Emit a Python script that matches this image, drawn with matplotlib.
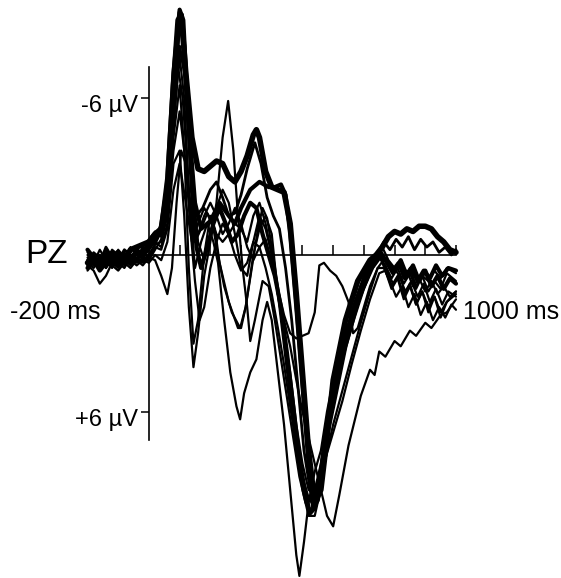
import matplotlib.pyplot as plt
from matplotlib.transforms import ScaledTranslation

plt.rcParams['font.family'] = ['Liberation Sans', 'DejaVu Sans']

# pre-stimulus sample times (ms), shared by all traces
pre_t = [-200, -180, -160, -140, -120, -100, -80, -60, -40, -20, 0]

# each trace: pre-stimulus values, then post-stimulus times and values (µV, negative up)
A_pre = [0.3, 0.1, 0.4, 0.0, 0.2, -0.1, 0.2, -0.2, -0.3, -0.4, -0.5]
A_t = [20, 40, 60, 80, 95, 105, 120, 140, 160, 180, 200, 220, 240, 260, 280, 300, 320, 340, 350, 360,
       380, 400, 420, 440, 460, 480, 500, 520, 540, 560, 580, 600, 640, 680, 720, 740, 760, 780, 800,
       820, 840, 860, 880, 900, 920, 940, 960, 980, 1000]
A_v = [-0.8, -1.0, -2.5, -6.5, -9.0, -9.2, -7.0, -4.5, -3.3, -3.2, -3.4, -3.6, -3.5, -3.0, -2.8, -3.2,
       -3.8, -4.6, -4.8, -4.5, -3.2, -2.6, -2.5, -2.4, -1.2, 1.5, 4.5, 7.5, 9.5, 9.0, 7.0, 4.8, 2.5,
       1.0, 0.2, 0.0, -0.3, -0.7, -0.9, -0.8, -1.0, -0.9, -1.1, -1.1, -1.0, -0.7, -0.5, -0.2, -0.1]

B_pre = [0.5, 0.2, 0.6, 0.3, 0.1, 0.4, 0.0, 0.3, -0.1, 0.1, -0.3]
B_t = [20, 40, 60, 80, 100, 115, 130, 150, 170, 200, 230, 260, 280, 300, 330, 360, 390, 410, 430, 445,
       460, 480, 500, 520, 535, 550, 570, 600, 640, 680, 720, 750, 780, 800, 820, 840, 860, 880, 900,
       920, 940, 960, 980, 1000]
B_v = [-0.6, -0.9, -2.0, -6.0, -9.3, -8.0, -5.0, -2.0, -1.0, -1.3, -2.0, -1.5, -1.2, -1.8, -2.5, -2.8,
       -2.6, -2.6, -2.7, -2.3, -0.8, 2.0, 5.0, 8.0, 9.7, 9.4, 7.5, 5.8, 3.5, 1.8, 0.6, 0.0, 0.3, 0.6,
       0.2, 0.8, 0.4, 1.0, 0.6, 1.2, 0.8, 1.3, 0.9, 1.1]

C_pre = [0.1, 0.4, 0.0, 0.5, 0.2, 0.3, -0.1, 0.2, 0.0, -0.2, 0.1]
C_t = [20, 40, 60, 80, 100, 115, 130, 145, 160, 180, 200, 220, 240, 258, 275, 290, 305, 320, 330, 345,
       370, 390, 410, 430, 450, 470, 490, 510, 530, 545, 560, 580, 610, 640, 670, 700, 730, 760, 780,
       800, 820, 840, 860, 880, 900, 920, 940, 960, 980, 1000]
C_v = [-0.3, -0.2, -1.0, -3.5, -4.0, -1.5, 2.0, 4.3, 3.0, 0.8, -0.5, -2.0, -4.5, -5.9, -4.0, -1.5, 0.5,
       2.0, 3.3, 2.5, 1.0, 1.2, 2.5, 4.0, 5.5, 7.0, 8.5, 9.5, 9.8, 9.3, 8.0, 6.2, 4.5, 3.0, 1.8, 0.8,
       0.1, -0.3, 0.2, 0.5, 0.9, 0.6, 1.2, 0.9, 1.4, 1.0, 1.5, 1.2, 1.6, 1.4]

D_pre = [0.4, 0.6, 1.1, 0.8, 0.3, 0.5, 0.2, 0.4, 0.1, 0.3, 0.0]
D_t = [20, 40, 60, 80, 100, 115, 130, 150, 170, 190, 210, 225, 245, 265, 285, 297, 310, 330, 350, 370,
       385, 400, 420, 440, 460, 480, 490, 505, 520, 540, 560, 580, 600, 630, 660, 690, 720, 750, 770,
       790, 810, 830, 850, 870, 890, 910, 930, 950, 970, 1000]
D_v = [-0.4, -0.5, -1.5, -5.0, -7.6, -6.0, -2.5, 0.5, -0.5, -1.2, -0.5, 0.3, 2.5, 4.5, 5.8, 6.3, 5.3,
       4.5, 4.0, 2.5, 1.8, 2.5, 4.5, 6.5, 9.0, 11.5, 12.3, 11.0, 9.5, 8.3, 7.5, 6.0, 4.8, 3.5, 2.3, 1.3,
       0.4, 0.0, 0.6, 1.2, 0.8, 1.6, 1.1, 1.9, 1.4, 2.0, 1.6, 2.2, 1.8, 1.5]

E_pre = [-0.1, 0.2, 0.3, -0.2, 0.4, 0.1, 0.3, 0.0, 0.2, 0.0, -0.2]
E_t = [20, 40, 60, 80, 100, 115, 130, 145, 160, 180, 200, 215, 230, 260, 290, 300, 315, 340, 360, 380,
       400, 420, 440, 460, 480, 500, 520, 540, 555, 575, 600, 630, 660, 690, 720, 745, 765, 785, 805,
       825, 845, 865, 885, 905, 925, 945, 965, 985, 1000]
E_v = [-0.5, -0.3, -1.2, -4.5, -6.5, -4.0, 0.5, 3.4, 2.5, 0.0, -1.5, -1.0, 0.3, 1.8, 2.8, 2.8, 2.0, 0.0,
       -1.0, -1.5, -0.8, 1.5, 3.5, 5.5, 7.5, 9.0, 10.0, 10.0, 9.2, 7.8, 6.5, 5.2, 3.9, 2.6, 1.4, 0.5,
       0.5, 1.0, 1.6, 1.2, 2.0, 1.5, 2.3, 1.8, 2.5, 2.0, 2.4, 1.9, 2.1]

F_pre = [0.2, -0.1, 0.1, 0.3, -0.2, 0.0, 0.4, 0.1, -0.2, 0.2, 0.3]
F_t = [20, 40, 60, 80, 100, 120, 140, 160, 180, 200, 220, 240, 260, 280, 300, 320, 340, 360, 380, 400,
       420, 440, 460, 480, 500, 520, 540, 560, 580, 600, 620, 650, 690, 720, 735, 750, 770, 800, 820,
       850, 870, 900, 920, 950, 970, 1000]
F_v = [0.0, 0.2, -0.5, -2.5, -3.5, -2.0, -0.5, -1.2, -1.8, -1.4, -0.8, -0.5, -0.8, -1.2, -1.0, -0.5,
       -1.5, -2.0, -1.2, 0.0, 1.5, 2.5, 3.5, 4.8, 6.0, 7.0, 8.0, 9.0, 10.0, 10.4, 9.2, 7.3, 5.4, 4.4,
       4.6, 3.7, 3.9, 3.3, 3.5, 2.9, 3.1, 2.6, 2.8, 2.3, 2.2, 1.7]

G_pre = [0.3, 0.5, 0.1, 0.0, 0.3, -0.2, 0.3, 0.2, 0.4, 0.2, 0.0]
G_t = [20, 40, 60, 80, 100, 120, 140, 160, 180, 200, 220, 240, 260, 280, 300, 320, 340, 360, 380, 400,
       420, 440, 460, 480, 500, 520, 540, 555, 570, 590, 610, 630, 650, 665, 680, 700, 720, 745, 770,
       790, 810, 830, 850, 870, 890, 910, 930, 950, 970, 1000]
G_v = [-0.4, -0.9, -1.5, -4.0, -5.5, -3.5, -1.0, -0.8, -1.5, -2.0, -1.5, -0.8, -1.2, -1.8, -1.2, -0.3,
       0.2, -0.3, -0.6, 0.3, 1.3, 2.3, 3.0, 3.2, 3.1, 3.0, 2.2, 0.4, 0.3, 0.6, 0.8, 1.2, 1.8, 3.0, 2.8,
       2.0, 1.2, 0.5, 0.1, 0.6, 0.3, 0.9, 0.5, 1.2, 0.8, 1.4, 1.0, 1.3, 0.7, 1.0]

H_pre = [0.0, 0.3, -0.2, 0.2, 0.5, 0.0, 0.1, -0.3, 0.0, -0.1, -0.6]
H_t = [20, 40, 60, 80, 100, 110, 125, 140, 160, 180, 200, 220, 240, 260, 280, 300, 320, 340, 360, 380,
       400, 420, 440, 460, 480, 500, 520, 540, 555, 575, 600, 630, 660, 690, 720, 750, 770, 790, 810,
       830, 850, 870, 890, 910, 930, 950, 970, 1000]
H_v = [-0.9, -0.7, -2.2, -6.0, -8.6, -8.8, -6.5, -3.0, -0.5, 0.2, -0.8, -1.8, -2.5, -2.0, -0.8, 0.5,
       0.8, -0.5, -1.5, -1.0, 0.0, 1.5, 3.0, 4.5, 6.5, 8.0, 9.0, 9.2, 8.5, 7.0, 5.5, 4.0, 2.6, 1.5, 0.6,
       0.1, 0.4, 0.9, 0.5, 1.1, 0.7, 1.3, 0.8, 1.0, 0.6, 0.9, 0.5, 0.7]

I_pre = [0.6, 0.3, 0.2, 0.5, 0.0, 0.3, 0.5, 0.1, 0.3, 0.1, 0.2]
I_t = [20, 40, 60, 80, 95, 110, 130, 150, 170, 190, 210, 225, 245, 270, 297, 315, 335, 355, 370, 385,
       400, 420, 440, 460, 480, 500, 520, 535, 550, 570, 600, 630, 660, 690, 720, 750, 770, 790, 810,
       830, 850, 870, 890, 910, 930, 950, 970, 1000]
I_v = [-0.2, -0.6, -2.0, -5.5, -7.2, -6.0, -2.5, -0.5, -1.0, -1.6, -1.0, 0.0, 1.2, 2.2, 2.8, 2.0, 0.5,
       -1.0, -1.8, -1.4, -0.3, 1.2, 3.0, 5.0, 7.0, 8.5, 9.3, 9.6, 9.0, 8.0, 6.8, 5.6, 4.2, 2.9, 1.7,
       0.7, 0.6, 1.3, 0.9, 1.7, 1.2, 1.9, 1.4, 2.2, 1.6, 2.4, 1.8, 1.4]

J_pre = [0.2, 0.0, 0.3, -0.3, 0.1, 0.2, -0.2, 0.0, 0.2, -0.3, -0.2]
J_t = [20, 40, 60, 80, 100, 115, 135, 155, 175, 200, 220, 240, 260, 280, 300, 320, 345, 365, 385, 405,
       425, 445, 465, 485, 505, 525, 540, 555, 575, 600, 630, 660, 690, 720, 745, 765, 785, 805, 825,
       845, 865, 885, 905, 925, 945, 965, 985, 1000]
J_v = [-0.7, -0.8, -1.8, -5.0, -8.0, -7.0, -3.5, -1.5, -1.8, -2.5, -2.8, -2.2, -1.5, -1.6, -2.3, -3.3,
       -4.3, -3.5, -2.2, -1.5, -1.0, 0.5, 2.5, 5.0, 7.5, 9.0, 9.4, 9.0, 7.2, 5.3, 3.6, 2.2, 1.2, 0.4,
       -0.1, -0.5, -0.2, -0.6, -0.3, -0.7, -0.2, -0.6, -0.3, -0.5, -0.1, -0.3, 0.0, -0.2]

K_pre = [-0.2, 0.1, 0.4, 0.2, -0.1, 0.3, 0.1, 0.2, -0.2, 0.0, -0.4]
K_t = [20, 40, 60, 80, 100, 112, 125, 140, 155, 170, 190, 210, 230, 250, 270, 290, 310, 330, 350, 370,
       390, 410, 430, 450, 470, 490, 510, 525, 540, 560, 580, 610, 640, 670, 700, 730, 755, 775, 795,
       815, 835, 855, 875, 895, 915, 935, 955, 975, 1000]
K_v = [-0.6, -1.1, -3.0, -7.0, -9.4, -9.0, -6.0, -2.5, -0.3, 0.5, -0.3, -1.2, -1.8, -1.2, -0.5, -0.8,
       -1.5, -2.0, -1.8, -0.8, 0.0, 0.8, 2.0, 3.8, 5.8, 7.8, 9.2, 9.9, 9.7, 8.5, 6.8, 5.0, 3.3, 2.0,
       1.0, 0.3, -0.1, 0.3, 0.7, 0.3, 0.9, 0.5, 1.0, 0.6, 0.9, 0.4, 0.8, 0.5, 0.6]

L_pre = [0.4, 0.2, 0.5, 0.1, 0.4, 0.6, 0.3, 0.5, 0.2, 0.4, 0.1]
L_t = [20, 40, 60, 75, 90, 105, 120, 135, 150, 165, 180, 200, 220, 240, 260, 280, 300, 320, 340, 360,
       380, 400, 420, 440, 460, 480, 500, 520, 540, 560, 580, 610, 640, 670, 700, 730, 755, 775, 795,
       815, 835, 855, 875, 895, 915, 935, 955, 975, 1000]
L_v = [0.2, 0.8, 1.5, 0.5, -2.0, -4.0, -3.5, -1.0, 1.0, 2.5, 2.0, 0.5, -0.5, -1.2, -0.8, 0.0, 0.6, 0.3,
       -0.5, -0.3, 0.5, 1.5, 2.8, 4.2, 5.8, 7.3, 8.6, 9.4, 9.0, 8.0, 6.5, 5.0, 3.6, 2.4, 1.3, 0.5, 0.1,
       0.6, 1.1, 0.8, 1.4, 1.0, 1.6, 1.1, 1.8, 1.3, 1.9, 1.4, 1.6]

traces = [
    (A_pre, A_t, A_v, 4.0),
    (B_pre, B_t, B_v, 3.0),
    (K_pre, K_t, K_v, 3.0),
    (J_pre, J_t, J_v, 2.0),
    (C_pre, C_t, C_v, 1.6),
    (D_pre, D_t, D_v, 1.6),
    (E_pre, E_t, E_v, 1.6),
    (F_pre, F_t, F_v, 1.6),
    (G_pre, G_t, G_v, 1.6),
    (H_pre, H_t, H_v, 1.6),
    (I_pre, I_t, I_v, 1.6),
    (L_pre, L_t, L_v, 1.6),
]

fig = plt.figure(figsize=(5.61, 5.78), dpi=100)
ax = fig.add_axes([0, 0, 1, 1])

for pre, t, v, lw in traces:
    ax.plot(pre_t + t, pre + v, color="black", linewidth=lw,
            solid_joinstyle="round", solid_capstyle="round")

ax.set_xlim(-485, 1342)
ax.set_ylim(12.38, -9.77)

for side in ["top", "right"]:
    ax.spines[side].set_visible(False)
ax.spines["left"].set_position(("data", 0))
ax.spines["left"].set_bounds(-7.2, 7.1)
ax.spines["bottom"].set_position(("data", 0))
ax.spines["bottom"].set_bounds(-200, 1000)
ax.spines["left"].set_linewidth(1.2)
ax.spines["bottom"].set_linewidth(1.2)

ax.set_xticks(range(0, 1001, 100))
ax.set_xticklabels([])
ax.tick_params(axis="x", direction="in", length=7, width=1.1)
ax.set_yticks([-6, 6])
ax.set_yticklabels(["-6 µV", "+6 µV"], fontsize=17)
ax.tick_params(axis="y", direction="out", length=6, width=1.1, pad=2)
# the scanned labels sit a little below their ticks
for label in ax.get_yticklabels():
    label.set_transform(label.get_transform() + ScaledTranslation(0, -4 / 72, fig.dpi_scale_trans))

ax.text(-265, 0, "PZ", fontsize=24, ha="right", va="center")
ax.text(-306, 2.2, "-200 ms", fontsize=18, ha="center", va="center")
ax.text(1023, 2.2, "1000 ms", fontsize=18, ha="left", va="center")

plt.savefig("out.png", dpi=100)
plt.close()
